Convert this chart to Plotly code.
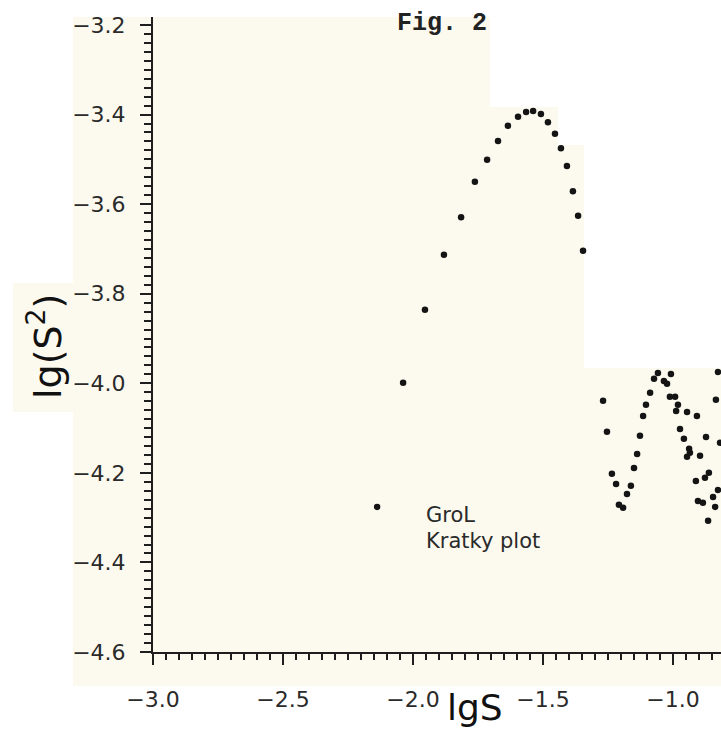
import plotly.graph_objects as go

# ---- data ----
lgS = [-1.715, -1.673, -1.635, -1.596, -1.565, -1.538, -1.508, -1.481, -1.454,
       -1.431, -1.408, -1.762, -1.385, -1.815, -1.365, -1.881, -1.346, -1.954,
       -2.038, -2.138,
       -1.058, -1.008, -1.073, -1.035, -1.023, -0.827, -1.088, -1.269, -1.012,
       -0.992, -0.835, -1.104, -0.981, -0.988, -0.946, -1.115, -0.908, -0.973,
       -1.254, -1.127, -0.958, -0.873, -0.819, -0.938, -0.935, -0.946, -0.896,
       -1.138, -1.150, -1.235, -0.862, -0.877, -0.912, -1.219, -1.162, -0.827,
       -1.177, -0.846, -0.904, -0.885, -1.208, -1.192, -0.838, -0.865]
lgS2 = [-3.501, -3.459, -3.425, -3.405, -3.394, -3.392, -3.399, -3.417, -3.443,
        -3.475, -3.515, -3.550, -3.571, -3.629, -3.626, -3.713, -3.704, -3.836,
        -3.999, -4.276,
        -3.977, -3.979, -3.990, -3.995, -4.001, -3.975, -4.021, -4.039, -4.030,
        -4.030, -4.037, -4.048, -4.048, -4.062, -4.064, -4.073, -4.073, -4.102,
        -4.108, -4.117, -4.124, -4.120, -4.133, -4.146, -4.155, -4.164, -4.162,
        -4.158, -4.189, -4.202, -4.200, -4.211, -4.218, -4.225, -4.229, -4.238,
        -4.247, -4.254, -4.263, -4.267, -4.271, -4.278, -4.276, -4.307]

x_title = "lgS"
y_title = "lg(S<sup>2</sup>)"
fig_label = "Fig. 2"
legend_lines = ["GroL", "Kratky plot"]

W, H = 721, 731
L, R, T, B = 153, 0, 17, 79
PW, PH = W - L - R, H - T - B

def px(x):
    return (x - L) / PW

def py(y):
    return (H - B - y) / PH

INK = "#1e1e1e"
CREAM = "#fcfaef"

fig = go.Figure()
fig.add_trace(go.Scatter(
    x=lgS, y=lgS2, mode="markers",
    marker=dict(size=6.5, color="#141414"),
    showlegend=False,
))

# scanned page region (cream paper)
poly = [(73, 17), (490, 17), (490, 107), (558, 107), (558, 145), (584, 145),
        (584, 368), (721, 368), (721, 686), (73, 686), (73, 412), (13, 412),
        (13, 283), (73, 283)]
path = "M " + " L ".join(f"{px(a):.4f},{py(b):.4f}" for a, b in poly) + " Z"

tickfont = dict(family="DejaVu Sans", size=22, color="#2a2a2a")

fig.update_layout(
    width=W, height=H,
    margin=dict(l=L, r=R, t=T, b=B, pad=0),
    paper_bgcolor="white",
    plot_bgcolor="rgba(0,0,0,0)",
    shapes=[dict(type="path", path=path, xref="paper", yref="paper",
                 fillcolor=CREAM, line=dict(width=0), layer="below")],
    xaxis=dict(
        range=[-3.0, -3.0 + PW / 260.0],
        tick0=-3.0, dtick=0.5, ticks="outside", ticklen=11, tickwidth=2,
        tickcolor=INK, showline=True, linecolor=INK, linewidth=2,
        showgrid=False, zeroline=False, tickfont=tickfont, tickformat=".1f",
        ticklabelstandoff=16,
        minor=dict(dtick=0.05, ticks="outside", ticklen=6, tickwidth=1.5,
                   tickcolor=INK, showgrid=False),
    ),
    yaxis=dict(
        range=[-4.6, -3.2 + (25 - T) / 448.0],
        tick0=-4.6, dtick=0.2, ticks="outside", ticklen=11, tickwidth=2,
        tickcolor=INK, showline=True, linecolor=INK, linewidth=2,
        showgrid=False, zeroline=False, tickfont=tickfont, tickformat=".1f",
        ticklabelstandoff=10,
        minor=dict(dtick=0.02, ticks="outside", ticklen=7, tickwidth=1.5,
                   tickcolor=INK, showgrid=False),
    ),
    annotations=[
        dict(text="<b>" + fig_label + "</b>", x=px(395), y=py(23), xref="paper", yref="paper",
             xanchor="left", yanchor="middle", showarrow=False,
             font=dict(family="Liberation Mono", size=25, color="#222")),
        dict(text=legend_lines[0], x=px(424), y=py(515), xref="paper", yref="paper",
             xanchor="left", yanchor="middle", showarrow=False,
             font=dict(family="DejaVu Sans", size=21, color="#2a2a2a")),
        dict(text=legend_lines[1], x=px(424), y=py(541), xref="paper", yref="paper",
             xanchor="left", yanchor="middle", showarrow=False,
             font=dict(family="DejaVu Sans", size=21, color="#2a2a2a")),
        dict(text=x_title, x=px(475), y=py(707), xref="paper", yref="paper",
             xanchor="center", yanchor="middle", showarrow=False,
             font=dict(family="DejaVu Sans", size=36, color="#111")),
        dict(text=y_title, x=px(45), y=py(347), xref="paper", yref="paper",
             xanchor="center", yanchor="middle", showarrow=False, textangle=-90,
             font=dict(family="DejaVu Sans", size=38, color="#111")),
    ],
)

fig.write_html("out.html")
